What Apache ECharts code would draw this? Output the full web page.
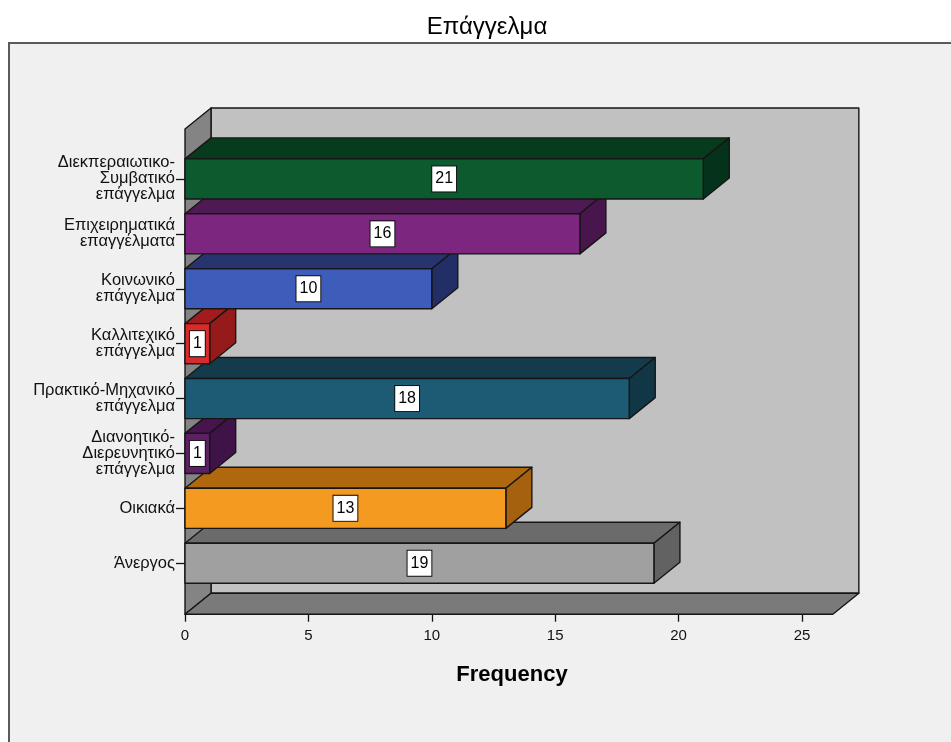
<!DOCTYPE html>
<html>
<head>
<meta charset="utf-8">
<script src="https://cdn.jsdelivr.net/npm/echarts@6/dist/echarts.min.js"></script>
<style>
  html, body { margin: 0; padding: 0; background: #ffffff; }
  #chart { width: 951px; height: 742px; }
</style>
</head>
<body>
<div id="chart"></div>
<script>
// Occupation categories (top to bottom) and their frequencies
const categories = [
  'Διεκπεραιωτικο-\nΣυμβατικό\nεπάγγελμα',
  'Επιχειρηματικά\nεπαγγέλματα',
  'Κοινωνικό\nεπάγγελμα',
  'Καλλιτεχικό\nεπάγγελμα',
  'Πρακτικό-Μηχανικό\nεπάγγελμα',
  'Διανοητικό-\nΔιερευνητικό\nεπάγγελμα',
  'Οικιακά',
  'Άνεργος'
];
const frequencies = [21, 16, 10, 1, 18, 1, 13, 19];

// Frequency axis ticks
const frequencyTicks = [0, 5, 10, 15, 20, 25];

// Face colours of each 3D bar: front, top, right side
const frontColors = ['#0c5a2e', '#7c2680', '#3e5cba', '#d92b2b', '#1d5a73', '#5e1f64', '#f59a21', '#a0a0a0'];
const topColors   = ['#063b1d', '#4f1a53', '#27346f', '#a31b1c', '#143b4b', '#46154c', '#b0680f', '#6b6b6b'];
const sideColors  = ['#05321a', '#48164c', '#222e66', '#961a1a', '#113645', '#401348', '#a5610e', '#626262'];

// 3D box geometry (pixels / axis units)
const DEPTH_X = 26;
const DEPTH_Y = 21;
const WALL_MAX = 26.25;
const BAR_RATIO = 0.73;
const EDGE = { stroke: '#161616', lineWidth: 1.4, lineJoin: 'round' };
const FONT = '"Liberation Sans", Arial, sans-serif';

const chart = echarts.init(document.getElementById('chart'), null, { renderer: 'canvas' });

// Back wall, left wall and floor of the 3D plot box
function renderFrame(params, api) {
  const band = api.size([0, 1])[1];
  const x0 = api.coord([0, 0])[0];
  const x1 = api.coord([WALL_MAX, 0])[0];
  const yTop = api.coord([0, 0])[1] - band * 0.91;
  const yBot = api.coord([0, categories.length - 1])[1] + band * 0.93;
  const bx0 = x0 + DEPTH_X, bx1 = x1 + DEPTH_X;
  const byTop = yTop - DEPTH_Y, byBot = yBot - DEPTH_Y;
  return {
    type: 'group',
    children: [
      { type: 'rect', z2: 1, shape: { x: bx0, y: byTop, width: bx1 - bx0, height: byBot - byTop },
        style: Object.assign({ fill: '#c1c1c1' }, EDGE) },
      { type: 'polygon', z2: 2, shape: { points: [[x0, yTop], [bx0, byTop], [bx0, byBot], [x0, yBot]] },
        style: Object.assign({ fill: '#848484' }, EDGE) },
      { type: 'polygon', z2: 3, shape: { points: [[x0, yBot], [bx0, byBot], [bx1, byBot], [x1, yBot]] },
        style: Object.assign({ fill: '#7a7a7a' }, EDGE) }
    ]
  };
}

// One 3D horizontal bar with its value box on the front face
function renderBar(params, api) {
  const i = params.dataIndex;
  const v = api.value(0);
  const cat = api.value(1);
  const start = api.coord([0, cat]);
  const end = api.coord([v, cat]);
  const band = api.size([0, 1])[1];
  const h = band * BAR_RATIO;
  const top = start[1] - h / 2;
  const bot = start[1] + h / 2;
  const xl = start[0], xr = end[0];
  const z = (categories.length - i) * 10;
  return {
    type: 'group',
    children: [
      { type: 'polygon', z2: z, shape: { points: [[xl, top], [xl + DEPTH_X, top - DEPTH_Y], [xr + DEPTH_X, top - DEPTH_Y], [xr, top]] },
        style: Object.assign({ fill: topColors[i] }, EDGE) },
      { type: 'polygon', z2: z, shape: { points: [[xr, top], [xr + DEPTH_X, top - DEPTH_Y], [xr + DEPTH_X, bot - DEPTH_Y], [xr, bot]] },
        style: Object.assign({ fill: sideColors[i] }, EDGE) },
      { type: 'rect', z2: z + 1, shape: { x: xl, y: top, width: xr - xl, height: h },
        style: Object.assign({ fill: frontColors[i] }, EDGE) },
      { type: 'text', z2: z + 2, x: (xl + xr) / 2, y: start[1],
        style: {
          text: String(v), align: 'center', verticalAlign: 'middle',
          font: '16px ' + FONT, fill: '#000',
          backgroundColor: '#ffffff', borderColor: '#111', borderWidth: 1, padding: [5, 3, 4, 3]
        } }
    ]
  };
}

const option = {
  backgroundColor: '#ffffff',
  animation: false,
  title: [
    { text: 'Επάγγελμα', left: 482, top: 10, textAlign: 'center',
      textStyle: { fontFamily: FONT, fontSize: 24, fontWeight: 'normal', color: '#000' } },
    { text: 'Frequency', left: 507, top: 659, textAlign: 'center',
      textStyle: { fontFamily: FONT, fontSize: 22, fontWeight: 'bold', color: '#000' } }
  ],
  graphic: [
    { type: 'rect', left: 8, top: 42, z: -10, silent: true,
      shape: { width: 1000, height: 800 },
      style: { fill: '#f0f0f0', stroke: '#5a5a5a', lineWidth: 2 } }
  ],
  grid: { left: 185, right: 149, top: 151.5, bottom: 151.3, containLabel: false },
  xAxis: {
    type: 'value',
    min: frequencyTicks[0],
    max: frequencyTicks[frequencyTicks.length - 1],
    interval: frequencyTicks[1] - frequencyTicks[0],
    offset: 23,
    axisLine: { show: false },
    axisTick: { show: true, length: 8, lineStyle: { color: '#111', width: 1.3 } },
    axisLabel: { margin: 15, fontSize: 15, color: '#111', fontFamily: FONT },
    splitLine: { show: false }
  },
  yAxis: {
    type: 'category',
    data: categories,
    inverse: true,
    axisLine: { show: false },
    axisTick: { show: true, alignWithLabel: true, length: 9, lineStyle: { color: '#111', width: 1.3 } },
    axisLabel: { margin: 10, fontSize: 16.5, lineHeight: 16, color: '#111', align: 'right', fontFamily: FONT }
  },
  series: [
    { type: 'custom', name: 'frame', z: 1, clip: false, silent: true,
      renderItem: renderFrame, data: [[0, 0]], encode: { x: 0, y: 1 } },
    { type: 'custom', name: 'Frequency', z: 2, clip: false,
      renderItem: renderBar,
      data: frequencies.map((v, i) => [v, i]),
      encode: { x: 0, y: 1 } }
  ]
};

chart.setOption(option);
</script>
</body>
</html>
